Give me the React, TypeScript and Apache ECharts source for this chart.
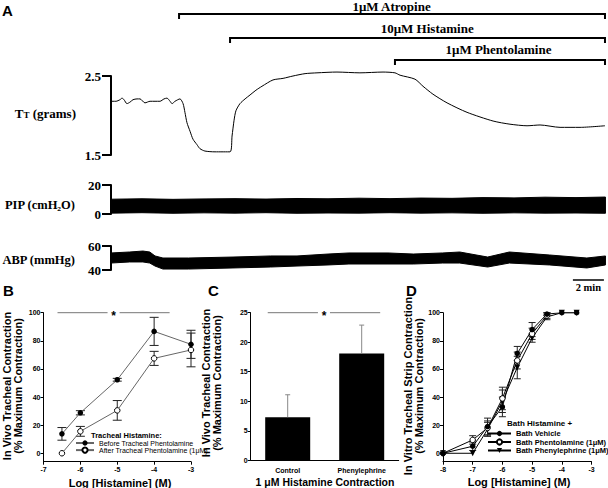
import React, { useEffect, useRef } from "react";
import * as echarts from "echarts";

const SERIF = "'Liberation Serif', 'Times New Roman', serif";
const SANS = "'Liberation Sans', Arial, sans-serif";

// ---------------- Panel A (time in minutes) ----------------
const ttTime = [0, 0.32, 0.58, 0.71, 0.84, 1.03, 1.23, 1.42, 1.68, 1.87, 2.19, 2.52, 2.84, 3.16, 3.42, 3.61, 3.81, 3.94, 4.13, 4.45, 4.65, 4.77, 4.9, 5.1, 5.29, 5.55, 5.74, 6.06, 6.71, 7.68, 7.81, 7.94, 8.06, 8.32, 8.65, 8.97, 9.35, 9.74, 10.45, 11.1, 11.74, 12.52, 13.29, 14.58, 16.06, 17.55, 18.32, 18.65, 19.61, 20.13, 20.77, 21.68, 22.97, 24.65, 25.74, 26.84, 27.68, 28.97, 30.26, 31.87];
const ttGrams = [2.18, 2.18, 2.2, 2.22, 2.2, 2.15, 2.17, 2.2, 2.21, 2.21, 2.16, 2.18, 2.18, 2.18, 2.21, 2.22, 2.18, 2.15, 2.18, 2.21, 2.15, 2.04, 1.91, 1.8, 1.7, 1.63, 1.58, 1.55, 1.54, 1.54, 1.74, 1.94, 2.06, 2.15, 2.21, 2.26, 2.32, 2.37, 2.45, 2.47, 2.5, 2.53, 2.54, 2.55, 2.54, 2.55, 2.54, 2.51, 2.46, 2.37, 2.27, 2.16, 2.04, 1.93, 1.89, 1.87, 1.88, 1.85, 1.85, 1.87];

const pipTime = [0, 2, 4, 6, 8, 10, 12, 14, 16, 18, 20, 22, 24, 26, 28, 30, 31.9];
const pipTop = [10.2, 10.5, 10.1, 10.4, 10.6, 10.3, 10.7, 10.5, 10.9, 10.6, 11.0, 10.8, 11.3, 11.1, 11.6, 11.3, 11.7];
const pipBottom = [0.6, 0.9, 0.5, 0.8, 0.6, 0.9, 0.5, 0.7, 0.6, 0.9, 0.6, 0.8, 0.5, 0.8, 0.6, 0.7, 0.5];

const abpTime = [0, 1.2, 2.06, 2.5, 2.84, 3.35, 5, 7.87, 10.3, 12, 14, 15.35, 17.87, 19.5, 21.4, 22.5, 24.3, 25.7, 28.3, 30.7, 31.9];
const abpTop = [54.2, 55, 55.8, 55, 51.7, 50, 50, 50.8, 51.7, 51.7, 53.3, 54.2, 54.2, 53.3, 54.2, 55, 50.8, 55, 52.5, 50, 51.7];
const abpBottom = [45.8, 46.7, 46.7, 45.8, 43.3, 40.8, 40.8, 41.7, 42.5, 43.3, 44.2, 45, 45, 45, 45.8, 45.8, 42.5, 45.8, 44.2, 41.7, 44.2];

const drugNames = ["1\u03bcM Atropine", "10\u03bcM Histamine", "1\u03bcM Phentolamine"];
const drugStart = [4.39, 7.68, 18.32];
const drugEnd = [31.87, 31.87, 31.87];
const drugLabelAt = [18.1, 20.4, 25.0];
const scaleBar = [29.8, 31.8]; // 2 min

// ---------------- Panel B ----------------
const bDose = [-6.5, -6, -5, -4, -3];
const bBefore = [13.8, 28.8, 52.3, 86.7, 77.5];
const bBeforeSem = [4.5, 1.5, 1.0, 10, 10];
const bAfter = [0, 15.6, 30.5, 67.5, 73.5];
const bAfterSem = [0, 3.5, 7, 5, 12];
const bSig = [-6.62, -3.58, 100];

// ---------------- Panel C ----------------
const cCategories = ["Control", "Phenylephrine"];
const cValues = [7.3, 18.1];
const cSem = [3.8, 4.8];
const cSig = [0, 1, 25];

// ---------------- Panel D ----------------
const dDose = [-8, -7, -6.5, -6, -5.5, -5, -4.5, -4, -3.5];
const dVehicle = [0, 5, 19, 33, 71, 88, 99, 100, 100];
const dVehicleSem = [0, 3, 6, 7, 5, 5, 1, 0, 0];
const dPhentolamine = [0, 9.5, 18, 39, 66, 85, 98];
const dPhentolamineSem = [0, 3, 5, 8, 6, 4, 2];
const dPhenylephrine = [0, 0, 17, 37, 61, 82, 97, 100, 100];
const dPhenylephrineSem = [0, 0, 5, 8, 8, 3, 2, 0, 0];

const BRACKET_ROW_Y = [14, 38, 60];
const BRACKET_TEXT_Y = [6.5, 28.5, 49.5];

const pairs = (xs: number[], ys: number[]) => ys.map((y, i) => [xs[i], y]);
const errData = (xs: number[], ys: number[], sems: number[]) =>
  ys.map((y, i) => [xs[i], y - sems[i], y + sems[i], sems[i]]).filter((d) => d[3] > 0);
const upErrData = (xs: number[], ys: number[], sems: number[]) =>
  ys.map((y, i) => [xs[i], y, y + sems[i], sems[i]]).filter((d) => d[3] > 0);

const bandRender = (times: number[], top: number[], bottom: number[]) => (_p: any, api: any) => {
  const pts: number[][] = [];
  for (let i = 0; i < times.length; i++) pts.push(api.coord([times[i], top[i]]));
  for (let i = times.length - 1; i >= 0; i--) pts.push(api.coord([times[i], bottom[i]]));
  return { type: "polygon", shape: { points: pts }, style: { fill: "#000", stroke: "#000", lineWidth: 1 } };
};

const errRender = (cap: number, color: string, upperOnly: boolean) => (_p: any, api: any) => {
  const x = api.value(0);
  const lo = api.coord([x, api.value(1)]);
  const hi = api.coord([x, api.value(2)]);
  const style = { stroke: color, lineWidth: 1 };
  const children: any[] = [
    { type: "line", shape: { x1: lo[0], y1: lo[1], x2: hi[0], y2: hi[1] }, style },
    { type: "line", shape: { x1: hi[0] - cap, y1: hi[1], x2: hi[0] + cap, y2: hi[1] }, style },
  ];
  if (!upperOnly) children.push({ type: "line", shape: { x1: lo[0] - cap, y1: lo[1], x2: lo[0] + cap, y2: lo[1] }, style });
  return { type: "group", children };
};

const sigRender = (extL: number, extR: number) => (_p: any, api: any) => {
  const bw = extL || extR ? api.size([1, 0])[0] : 0;
  const p1 = api.coord([api.value(0), api.value(2)]);
  const p2 = api.coord([api.value(1), api.value(2)]);
  const x1 = p1[0] - extL * bw;
  const x2 = p2[0] + extR * bw;
  const y = p1[1];
  const mid = (x1 + x2) / 2;
  const style = { stroke: "#777", lineWidth: 1 };
  return {
    type: "group",
    children: [
      { type: "line", shape: { x1, y1: y, x2: mid - 6, y2: y }, style },
      { type: "line", shape: { x1: mid + 6, y1: y, x2, y2: y }, style },
      {
        type: "text", x: mid, y: y + 3,
        style: { text: "*", fill: "#000", fontFamily: SANS, fontWeight: "bold", fontSize: 12, textAlign: "center", textVerticalAlign: "middle", align: "center", verticalAlign: "middle" },
      },
    ],
  };
};

const txt = (x: number, y: number, text: string, o: any = {}) => ({
  type: "text", x, y, silent: true, rotation: o.rotation || 0,
  style: {
    text, fill: "#000",
    fontFamily: o.family || SANS, fontWeight: o.weight || "bold", fontSize: o.size || 11,
    textAlign: o.align || "left", align: o.align || "left",
    textVerticalAlign: "middle", verticalAlign: "middle",
    lineHeight: o.lineHeight, rich: o.rich,
  },
});

const traceX = (gi: number) => ({ type: "value", gridIndex: gi, min: 0, max: 32, show: false });
const traceY = (gi: number, min: number, max: number, interval: number) => ({
  type: "value", gridIndex: gi, min, max, interval, offset: 6,
  axisLine: { show: true, lineStyle: { color: "#000", width: 2 } },
  axisTick: { show: true, length: 9, lineStyle: { color: "#000", width: 2 } },
  axisLabel: { margin: 4, color: "#000", fontFamily: SERIF, fontWeight: "bold", fontSize: 13 },
  splitLine: { show: false },
});
const smallLabel = { color: "#000", fontFamily: SANS, fontWeight: "bold", fontSize: 7 };
const pctTicks = [0, 20, 40, 60, 80, 100];
const pctY = (gi: number) => ({
  type: "value", gridIndex: gi, min: -6, max: 100,
  axisLine: { show: true, lineStyle: { color: "#000", width: 1 } },
  axisTick: { show: true, length: 3, customValues: pctTicks, lineStyle: { color: "#000" } },
  axisLabel: { ...smallLabel, margin: 3, customValues: pctTicks },
  splitLine: { show: false },
});
const doseX = (gi: number, min: number) => ({
  type: "value", gridIndex: gi, min, max: -3, interval: 1,
  axisLine: { show: true, onZero: false, lineStyle: { color: "#000", width: 1 } },
  axisTick: { show: true, length: 3, lineStyle: { color: "#000" } },
  axisLabel: { ...smallLabel, margin: 4, showMinLabel: true, showMaxLabel: true },
  splitLine: { show: false },
});

const option: any = {
  animation: false,
  backgroundColor: "#fff",
  grid: [
    { left: 111, top: 76, width: 496, height: 79, outerBoundsMode: "none" },
    { left: 111, top: 185, width: 496, height: 29, outerBoundsMode: "none" },
    { left: 111, top: 246, width: 496, height: 24, outerBoundsMode: "none" },
    { left: 43.5, top: 312.7, width: 147.5, height: 149, outerBoundsMode: "none" },
    { left: 250.7, top: 312.7, width: 148, height: 147.6, outerBoundsMode: "none" },
    { left: 443, top: 312.7, width: 148.5, height: 149, outerBoundsMode: "none" },
  ],
  xAxis: [
    traceX(0), traceX(1), traceX(2),
    doseX(3, -7),
    {
      type: "category", gridIndex: 4, data: cCategories,
      axisLine: { show: true, lineStyle: { color: "#000", width: 1 } },
      axisTick: { show: false },
      axisLabel: { ...smallLabel, margin: 7 },
      splitLine: { show: false },
    },
    doseX(5, -8),
  ],
  yAxis: [
    traceY(0, 1.5, 2.5, 1),
    traceY(1, 0, 20, 20),
    traceY(2, 40, 60, 20),
    pctY(3),
    {
      type: "value", gridIndex: 4, min: 0, max: 25, interval: 5,
      axisLine: { show: true, lineStyle: { color: "#000", width: 1 } },
      axisTick: { show: true, length: 3, lineStyle: { color: "#000" } },
      axisLabel: { ...smallLabel, margin: 3 },
      splitLine: { show: false },
    },
    pctY(5),
  ],
  legend: [
    {
      data: ["Before Tracheal Phentolamine", "After Tracheal Phentolamine (1\u03bcM)"],
      orient: "vertical", left: 75, top: 439.5, padding: 0, itemGap: 0,
      itemWidth: 18, itemHeight: 6.5, selectedMode: false,
      textStyle: { fontSize: 7, fontFamily: SANS, color: "#000" },
    },
    {
      data: ["Bath Vehicle", "Bath Phentolamine (1\u03bcM)", "Bath Phenylephrine (1\u03bcM)"],
      orient: "vertical", left: 487, top: 429.5, padding: 0, itemGap: 0.5,
      itemWidth: 23, itemHeight: 6.5, selectedMode: false,
      textStyle: { fontSize: 7.5, fontWeight: "bold", fontFamily: SANS, color: "#000" },
    },
  ],
  series: [
    // Panel A
    {
      type: "line", xAxisIndex: 0, yAxisIndex: 0, data: pairs(ttTime, ttGrams),
      symbol: "none", smooth: 0.25, clip: false, silent: true,
      lineStyle: { color: "#000", width: 1 },
    },
    {
      type: "custom", xAxisIndex: 0, yAxisIndex: 0, silent: true,
      data: drugNames.map((_n, i) => [drugStart[i], drugEnd[i], drugLabelAt[i]]),
      renderItem: (params: any, api: any) => {
        const i = params.dataIndex;
        const x1 = api.coord([api.value(0), 2])[0];
        const x2 = api.coord([api.value(1), 2])[0];
        const xl = api.coord([api.value(2), 2])[0];
        const yr = BRACKET_ROW_Y[i];
        return {
          type: "group",
          children: [
            { type: "polyline", shape: { points: [[x1, yr + 5], [x1, yr], [x2, yr], [x2, yr + 5]] }, style: { stroke: "#000", lineWidth: 2, fill: "none" } },
            {
              type: "text", x: xl, y: BRACKET_TEXT_Y[i],
              style: { text: drugNames[i], fill: "#000", fontFamily: SERIF, fontWeight: "bold", fontSize: 13, textAlign: "center", align: "center", textVerticalAlign: "middle", verticalAlign: "middle" },
            },
          ],
        };
      },
    },
    { type: "custom", xAxisIndex: 1, yAxisIndex: 1, silent: true, data: [[0, 0]], renderItem: bandRender(pipTime, pipTop, pipBottom) },
    { type: "custom", xAxisIndex: 2, yAxisIndex: 2, silent: true, data: [[0, 40]], renderItem: bandRender(abpTime, abpTop, abpBottom) },
    {
      type: "custom", xAxisIndex: 2, yAxisIndex: 2, silent: true, data: [[scaleBar[0], scaleBar[1]]],
      renderItem: (_p: any, api: any) => {
        const a = api.coord([api.value(0), 40]);
        const b = api.coord([api.value(1), 40]);
        const y = a[1] + 10;
        return {
          type: "group",
          children: [
            { type: "line", shape: { x1: a[0], y1: y, x2: b[0], y2: y }, style: { stroke: "#000", lineWidth: 1.5 } },
            { type: "text", x: (a[0] + b[0]) / 2, y: y + 7.5, style: { text: "2 min", fill: "#000", fontFamily: SERIF, fontWeight: "bold", fontSize: 10.5, textAlign: "center", align: "center", textVerticalAlign: "middle", verticalAlign: "middle" } },
          ],
        };
      },
    },
    // Panel B
    { type: "custom", xAxisIndex: 3, yAxisIndex: 3, silent: true, z: 1, data: errData(bDose, bBefore, bBeforeSem), renderItem: errRender(4.5, "#222", false) },
    { type: "custom", xAxisIndex: 3, yAxisIndex: 3, silent: true, z: 1, data: errData(bDose, bAfter, bAfterSem), renderItem: errRender(4.5, "#222", false) },
    {
      name: "Before Tracheal Phentolamine", type: "line", xAxisIndex: 3, yAxisIndex: 3, z: 2,
      data: pairs(bDose, bBefore), symbol: "circle", symbolSize: 5.5,
      itemStyle: { color: "#000" }, lineStyle: { color: "#666", width: 1 },
    },
    {
      name: "After Tracheal Phentolamine (1\u03bcM)", type: "line", xAxisIndex: 3, yAxisIndex: 3, z: 2,
      data: pairs(bDose, bAfter), symbol: "circle", symbolSize: 5.5,
      itemStyle: { color: "#fff", borderColor: "#000", borderWidth: 1 }, lineStyle: { color: "#666", width: 1 },
    },
    { type: "custom", xAxisIndex: 3, yAxisIndex: 3, silent: true, data: [bSig], renderItem: sigRender(0, 0) },
    // Panel C
    {
      type: "bar", xAxisIndex: 4, yAxisIndex: 4, data: cValues, barWidth: 45,
      itemStyle: { color: "#000" }, silent: true,
    },
    { type: "custom", xAxisIndex: 4, yAxisIndex: 4, silent: true, z: 3, data: upErrData([0, 1], cValues, cSem), renderItem: errRender(2.5, "#888", true) },
    { type: "custom", xAxisIndex: 4, yAxisIndex: 4, silent: true, data: [cSig], renderItem: sigRender(0.27, 0.25) },
    // Panel D
    { type: "custom", xAxisIndex: 5, yAxisIndex: 5, silent: true, z: 1, data: errData(dDose, dPhenylephrine, dPhenylephrineSem), renderItem: errRender(3.5, "#222", false) },
    { type: "custom", xAxisIndex: 5, yAxisIndex: 5, silent: true, z: 1, data: errData(dDose, dPhentolamine, dPhentolamineSem), renderItem: errRender(3.5, "#222", false) },
    { type: "custom", xAxisIndex: 5, yAxisIndex: 5, silent: true, z: 1, data: errData(dDose, dVehicle, dVehicleSem), renderItem: errRender(3.5, "#222", false) },
    {
      name: "Bath Phenylephrine (1\u03bcM)", type: "line", xAxisIndex: 5, yAxisIndex: 5, z: 2,
      data: pairs(dDose, dPhenylephrine), symbol: "triangle", symbolRotate: 180, symbolSize: 6,
      itemStyle: { color: "#000" }, lineStyle: { color: "#000", width: 1 },
    },
    {
      name: "Bath Phentolamine (1\u03bcM)", type: "line", xAxisIndex: 5, yAxisIndex: 5, z: 2,
      data: pairs(dDose, dPhentolamine), symbol: "circle", symbolSize: 5.5,
      itemStyle: { color: "#fff", borderColor: "#000", borderWidth: 1 }, lineStyle: { color: "#000", width: 1 },
    },
    {
      name: "Bath Vehicle", type: "line", xAxisIndex: 5, yAxisIndex: 5, z: 2,
      data: pairs(dDose, dVehicle), symbol: "circle", symbolSize: 5.5,
      itemStyle: { color: "#000" }, lineStyle: { color: "#000", width: 1 },
    },
  ],
  graphic: [
    txt(2, 10, "A", { size: 15 }),
    txt(3, 290, "B", { size: 15 }),
    txt(208, 290, "C", { size: 15 }),
    txt(406, 290, "D", { size: 15 }),
    txt(76, 113, "{a|T}{s|T}{a| (grams)}", {
      align: "right", family: SERIF, size: 13,
      rich: {
        a: { fontFamily: SERIF, fontWeight: "bold", fontSize: 13, fill: "#000", color: "#000", verticalAlign: "bottom" },
        s: { fontFamily: SERIF, fontWeight: "bold", fontSize: 9, fill: "#000", color: "#000", verticalAlign: "bottom" },
      },
    }),
    txt(75, 205, "PIP (cmH\u2082O)", { align: "right", family: SERIF, size: 12.5 }),
    txt(75, 260, "ABP (mmHg)", { align: "right", family: SERIF, size: 12.5 }),
    txt(91, 435, "Tracheal Histamine:", { size: 7.5 }),
    txt(507, 423.5, "Bath Histamine +", { size: 8 }),
    txt(12.5, 386, "In Vivo Tracheal Contraction\n(% Maximum Contraction)", { align: "center", size: 11, lineHeight: 11, rotation: Math.PI / 2 }),
    txt(211, 383, "In Vivo Tracheal Contraction\n(% Maximum Contraction)", { align: "center", size: 11, lineHeight: 11, rotation: Math.PI / 2 }),
    txt(413, 386, "In Vitro Tracheal Strip Contraction\n(% Maximum Contraction)", { align: "center", size: 11, lineHeight: 11, rotation: Math.PI / 2 }),
    txt(120, 483, "Log [Histamine] (M)", { align: "center", size: 11 }),
    txt(325, 482, "1 \u03bcM Histamine Contraction", { align: "center", size: 10.5 }),
    txt(519, 482, "Log [Histamine] (M)", { align: "center", size: 11 }),
  ],
};

export default function App() {
  const ref = useRef<HTMLDivElement>(null);
  useEffect(() => {
    const chart = echarts.init(ref.current!, null, { renderer: "svg" });
    chart.setOption(option);
    return () => chart.dispose();
  }, []);
  return <div ref={ref} style={{ position: "fixed", left: 0, top: 0, width: 608, height: 488, background: "#fff" }} />;
}
